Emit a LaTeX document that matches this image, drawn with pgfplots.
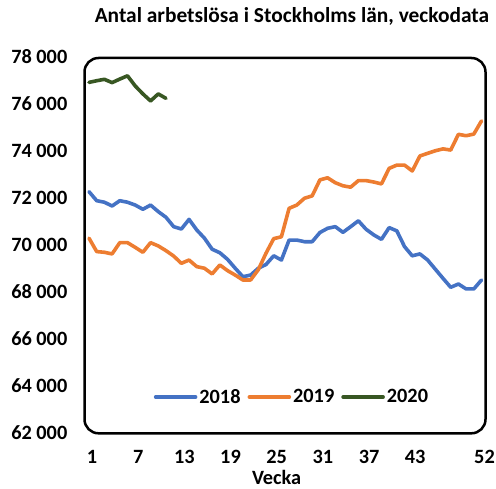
\documentclass[border=0pt]{standalone}
\usepackage{pgfplots}
\pgfplotsset{compat=1.18}
\usepackage{pgfplotstable}
\usepackage{fontspec}
\setmainfont{Carlito}
\definecolor{c18}{HTML}{4472C4}
\definecolor{c19}{HTML}{ED7D31}
\definecolor{c20}{HTML}{385723}
\pgfplotstableread{
w v
1 72270
2 71885
3 71820
4 71660
5 71885
6 71820
7 71700
8 71520
9 71700
10 71420
11 71180
12 70780
13 70680
14 71090
15 70640
16 70290
17 69820
18 69670
19 69390
20 69010
21 68650
22 68720
23 69010
24 69170
25 69540
26 69360
27 70210
28 70210
29 70140
30 70140
31 70530
32 70710
33 70780
34 70540
35 70780
36 71030
37 70670
38 70430
39 70240
40 70740
41 70600
42 69930
43 69540
44 69620
45 69360
46 68970
47 68580
48 68200
49 68340
50 68130
51 68130
52 68510
}\tA
\pgfplotstableread{
w v
1 70290
2 69720
3 69690
4 69620
5 70100
6 70100
7 69900
8 69690
9 70100
10 69960
11 69760
12 69530
13 69220
14 69360
15 69080
16 69010
17 68770
18 69150
19 68910
20 68720
21 68510
22 68510
23 68950
24 69650
25 70270
26 70350
27 71560
28 71700
29 71990
30 72090
31 72770
32 72860
33 72650
34 72520
35 72460
36 72740
37 72740
38 72680
39 72600
40 73260
41 73400
42 73400
43 73150
44 73790
45 73900
46 74010
47 74090
48 74040
49 74710
50 74650
51 74720
52 75280
}\tB
\pgfplotstableread{
w v
1 76920
2 76990
3 77050
4 76910
5 77060
6 77200
7 76770
8 76430
9 76130
10 76430
11 76240
}\tC
\begin{document}
\begin{tikzpicture}
\path[use as bounding box] (0,0) rectangle (496bp,489bp);
\draw[line width=2.5bp, rounded corners=14bp] (84.5bp,55.7bp) rectangle (485.5bp,431bp);
\begin{axis}[
  at={(89bp,56bp)}, anchor=south west,
  scale only axis, width=392.5bp, height=376bp,
  xmin=1, xmax=52, ymin=62000, ymax=78000,
  clip=false,
  scaled y ticks=false, scaled x ticks=false,
  axis line style={draw=none},
  major tick length=0pt,
  font=\fontsize{20.3bp}{23bp}\selectfont\bfseries,
  /pgf/number format/assume math mode=true,
  xtick={1,7,13,19,25,31,37,43,52},
  xticklabels={1,7,13,19,25,31,37,43,52},
  xticklabel style={anchor=north, inner sep=0pt, yshift=-17bp, xshift=3bp},
  ytick={62000,64000,66000,68000,70000,72000,74000,76000,78000},
  yticklabels={62 000,64 000,66 000,68 000,70 000,72 000,74 000,76 000,78 000},
  yticklabel style={anchor=east, inner sep=0pt, xshift=-21.5bp},
  xlabel={Vecka},
  xlabel style={at={(rel axis cs:0.478,0)}, anchor=base, inner sep=0pt, yshift=-51bp},
  title={Antal arbetslösa i Stockholms län, veckodata},
  title style={at={(rel axis cs:0.517,1)}, anchor=base, inner sep=0pt, yshift=28.7bp,
    font=\fontsize{21.4bp}{24bp}\selectfont\bfseries},
  legend columns=3,
  legend style={at={(rel axis cs:0.517,0.0957)}, anchor=center, draw=none, fill=none,
    font=\fontsize{20.3bp}{23bp}\selectfont\bfseries,
    /tikz/every even column/.append style={column sep=5bp}},
  legend image code/.code={\draw[#1, line cap=round] (0bp,0bp) -- (40bp,0bp);},
  every axis plot/.append style={line width=3.6bp, line join=round, line cap=round},
]
\addplot[c18] table[x=w,y=v] {\tA};
\addlegendentry{2018}
\addplot[c19] table[x=w,y=v] {\tB};
\addlegendentry{2019}
\addplot[c20] table[x=w,y=v] {\tC};
\addlegendentry{2020}
\end{axis}
\end{tikzpicture}
\end{document}
